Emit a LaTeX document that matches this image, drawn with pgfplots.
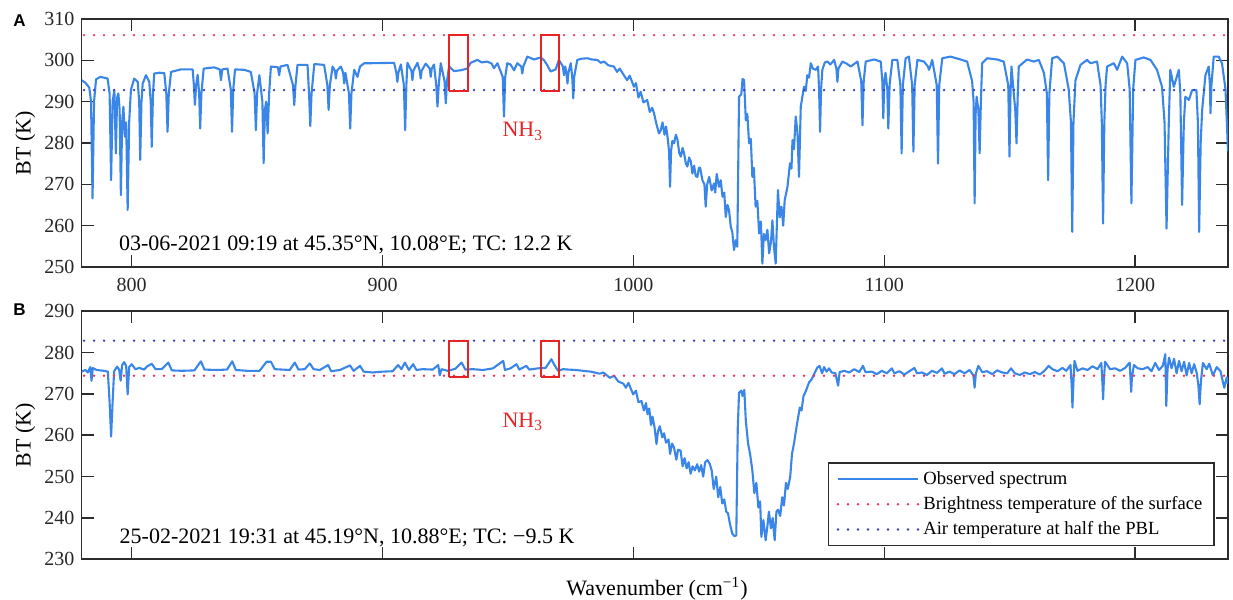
\documentclass[border=0pt]{standalone}
\usepackage{pgfplots}
\pgfplotsset{compat=1.18}
\usepackage{pgfplotstable}
\usepackage{fontspec}
\setmainfont{Liberation Serif}
\newfontfamily\panelfont{Liberation Sans}

\definecolor{specblue}{RGB}{58,134,232}
\definecolor{surfred}{RGB}{238,50,90}
\definecolor{airblue}{RGB}{55,60,190}
\definecolor{boxred}{RGB}{232,35,35}
\definecolor{axisgray}{RGB}{45,45,45}

\pgfplotstableread{
x y
780 295.2
781.5 294.6
783.1 293.4
783.8 290
784.4 266.6
785.0 290
785.8 295.4
787.5 296.0
790.4 295.6
791.2 292
791.8 271.0
792.4 290
793.1 292.8
793.7 277.5
794.2 291
794.7 292.0
795.2 288
795.7 267.4
796.2 285
796.7 288.8
797.3 281.5
797.8 285
798.4 263.8
799.0 285
799.7 292.8
801.0 295.6
802.4 294.8
803.0 290
803.4 275.9
803.9 290
804.4 294.4
805.7 296.4
807.0 294.8
807.6 290
808.0 279.1
808.5 292
809.0 296.8
811 297.0
813.0 296.9
813.8 292
814.3 282.7
814.8 292
815.7 297.2
819.6 297.8
824.3 297.8
824.8 294
825.2 289.2
825.7 294
826.3 296.5
826.9 292
827.3 283.5
827.8 292
828.7 298.0
832.9 298.3
835.1 297.8
835.6 295.2
836.1 297.8
838.2 298.0
839.5 293
840.0 282.7
840.5 293
841.2 297.8
844.9 297.7
847.5 297.2
849.0 292
849.5 283.1
850.0 292
850.9 296.4
852.1 290
852.6 275.1
853.1 288
853.6 290
854.2 282.3
854.8 292
855.5 298.5
858.3 298.3
858.8 296.4
859.3 298.5
862.1 298.9
864.3 294
864.8 289.2
865.3 294
866.1 298.9
870.1 298.9
870.7 292
871.2 284.1
871.7 292
872.8 299.1
876.7 298.9
878.0 294
878.5 288.0
879.0 294
880.1 298.5
881.0 297.5
881.4 295.6
881.8 297.5
883.4 298.5
884.3 297
884.7 294.4
885.2 297
886.6 292
887.1 283.5
887.6 292
888.7 297.7
890.0 296.0
891.0 298.5
892.7 299.3
895.3 299.3
904.6 299.4
905.5 297
905.9 294.8
906.3 297
907.3 299.0
908.5 294
909.0 283.1
909.5 294
909.9 299.4
911.5 297.5
911.9 295.2
912.3 297.5
913.9 299.4
914.8 297.5
915.2 295.6
915.6 297.5
917.2 299.2
918.8 298
919.2 296.0
919.6 298
920.5 299.0
921.4 294
921.9 288.8
922.4 294
923.2 299.3
924.7 295
925.2 289.6
925.7 295
926.5 298.5
928.5 297.4
931.2 297.6
933.8 298.0
935.1 299.4
937.8 300.1
939.5 299.5
941.8 299.7
943.5 299.2
944.4 298.1
945.8 299.3
947.9 296
948.4 286.4
948.9 296
949.7 299.3
951 299
952.4 297.6
953.7 299.3
955.3 298.5
955.7 296.8
956.1 298.5
957.7 300.9
960.4 300.2
963.0 300.7
964.4 300.0
965.5 299
967.0 297.3
969.0 297.8
970.3 300.1
971.9 298.5
972.3 296.4
972.8 298.5
973.3 297
973.7 294.4
974.1 297
975.0 299.3
975.6 296
976.0 290.8
976.4 296
977.6 300.1
979.5 300.4
981.6 300.5
983.5 300.2
985.6 300.1
987 299.4
988.3 299.7
990 298.8
992.2 298.5
993.5 297.2
994.5 298.0
996.2 296.4
997.5 295.2
998.5 296.3
1000.2 293.6
1001.0 294.5
1002.0 291.0
1002.9 292.4
1004.0 289.8
1005.5 290.4
1006.5 287.5
1007.5 288.5
1008.2 287.2
1009.2 284.5
1010.2 282.3
1010.9 283.1
1011.6 285.0
1012.4 282.0
1013.0 284.0
1013.6 281.5
1014.2 278
1014.6 269.4
1015.0 278
1015.5 280.5
1016.2 279.9
1016.9 282.0
1017.5 281.0
1018.3 277.5
1018.9 276.7
1019.6 278.8
1020.2 277.5
1020.9 275.0
1021.5 274.3
1022.2 276.5
1022.9 275.5
1023.5 272.6
1024.2 274.5
1024.8 272.0
1025.5 271.8
1026.1 274
1026.6 274.0
1027.5 271.0
1028.3 270
1028.8 264.6
1029.4 270
1030.2 271.8
1031.2 268.5
1032.1 270.2
1032.6 268.0
1033.2 272.5
1034.1 269.4
1034.8 271
1035.5 267.0
1036.2 268
1036.8 262.1
1037.5 265.0
1038.1 263.8
1038.8 259.7
1039.4 258.5
1040.1 254.1
1040.8 256.5
1041.4 254.9
1042.1 291.2
1043.0 291.8
1043.5 295.5
1044.1 295.2
1044.8 285.5
1045.4 287
1046.1 279.9
1046.8 281
1047.4 271.8
1048.0 274
1048.7 264.6
1049.4 266
1050.1 258.1
1050.8 261
1051.4 250.8
1052.0 258
1052.7 256.5
1053.4 259
1054.1 253.3
1054.8 256
1055.4 261.3
1056.0 255
1056.7 250.8
1057.6 268.6
1058.3 262
1059.0 264.6
1059.7 260
1060.3 266.2
1061.4 269.4
1062.4 275.1
1063.0 273.8
1063.4 280.7
1064.0 278.5
1064.7 286.4
1065.4 282.3
1066.0 271.8
1066.7 288.8
1068.0 293.6
1068.7 292.6
1069.3 296.4
1070.0 295.8
1070.7 299.3
1071.5 298.0
1072.7 297.7
1073.6 298.5
1074.0 293
1074.4 282.7
1074.8 293
1075.3 297.7
1076.3 299.5
1077.3 299.7
1078.5 299.0
1080.0 300.1
1080.9 298
1081.3 294.8
1081.7 298
1083.3 299.7
1085 299.2
1086.6 298.5
1089.3 299.7
1090.8 295
1091.3 284.3
1091.8 295
1092.6 299.7
1095.9 300.2
1098.6 299.7
1099.2 295
1099.6 286.0
1100.0 295
1100.5 297
1101.2 293
1101.6 283.5
1102.1 294
1103.2 300.1
1105.2 300.1
1106.4 294
1106.9 277.5
1107.4 294
1108.5 300.5
1109.8 300.9
1111.1 294
1111.6 277.9
1112.1 294
1113.2 300.1
1115.8 299.7
1117.4 298.5
1117.8 297.7
1118.3 298.5
1119.1 300.1
1120.9 294
1121.4 275.0
1121.9 294
1123.1 300.5
1126.4 300.9
1130.4 300.2
1133.0 299.7
1135.0 295
1135.6 290
1136.0 265.4
1136.4 287
1136.8 291.2
1137.5 288
1138.0 277.5
1138.5 290
1139.0 299.3
1141.0 300.5
1145.0 300.2
1147.6 299.7
1149.4 294
1149.9 276.7
1150.3 292
1150.7 298.5
1151.6 292
1152.2 288
1152.7 279.9
1153.2 292
1153.6 298.5
1156.9 300.2
1159.6 299.7
1161.6 300.1
1163.6 297
1164.8 292
1165.3 271.0
1165.8 292
1166.9 300.5
1168.9 300.9
1171.6 299.3
1173.5 293
1174.4 285
1174.9 258.5
1175.4 285
1176.2 295.2
1178.2 298.9
1180.8 300.1
1182.2 299.3
1184.8 299.7
1186.2 294
1186.7 285
1187.2 260.5
1187.7 285
1188.2 294
1188.8 298.5
1191.5 299.3
1192.8 297.7
1194.8 300.9
1196.8 299.3
1197.8 293
1198.5 265.4
1199.2 293
1200.1 300.1
1203.4 300.7
1206.1 300.1
1208.7 297.7
1210.7 293.6
1211.7 285
1212.5 259.3
1213.4 285
1214.0 297.7
1215.4 293.6
1217.4 297.7
1218.0 292
1218.7 265.0
1219.4 285
1220.0 291.2
1221.4 290.4
1222.7 292.8
1224.4 292.8
1225.0 285
1225.5 258.5
1226.1 280
1226.7 288
1228.0 296.4
1229.3 298.5
1229.8 294
1230.0 287.2
1230.4 294
1231.3 300.9
1233.3 300.9
1234.6 299.3
1236.0 293
1237.0 278
}\specA

% panel B: 25-02-2021
\pgfplotstableread{
x y
780 275.4
781.5 275.8
782.5 275.2
783.5 276.5
784.0 273.2
784.5 276.3
786 275.8
789 275.6
790.5 275.4
791.2 268
791.8 259.7
792.4 268
793.0 275.5
794.2 276.6
795.0 275.9
795.6 273.2
796.2 277.0
797 277.7
797.8 276.8
798.4 269.9
799.0 276.5
800 277.2
801.5 276.0
803 276.3
805 275.9
806 276.6
808 277.3
809.5 276.0
812 276.0
814.6 277.6
816 275.7
820 275.6
825 275.7
827.6 277.9
829 275.9
834 275.8
838 275.9
840.1 277.9
841.5 275.8
846 275.6
851 275.6
852.5 276.8
853.8 277.8
855.5 277.8
857 276.0
860 275.9
863 275.8
865 277.6
866.5 275.9
869 276.0
871 277.4
872.5 276.0
875 275.8
878.3 277.0
879.5 275.5
883 275.8
887 276.9
888.5 275.6
891 276.8
892.5 275.4
896 275.2
900 275.4
904 275.5
906.2 277.0
907.5 276.0
908.9 277.6
910.5 275.8
912.2 277.2
913.5 275.8
916 276.0
920 275.9
922.2 277.0
922.8 274.5
923.5 276.0
926 275.6
929 276.1
931.5 277.6
933 275.9
936 276.0
940 275.8
944 276.2
948.1 278.0
948.8 275.8
951 276.2
953.4 277.2
954.5 275.9
957.3 276.8
958.5 275.9
962 276.2
965 276.3
967.3 278.4
968.5 277.0
970 275.6
972 276.0
974 275.9
977 275.8
980 275.6
983 275.4
986.6 274.9
988 275.2
990.6 273.9
992.3 274.4
994 273.0
996 272.5
997 271.5
998 272.7
999.9 269.9
1001 270.8
1002 268.0
1003.2 268.3
1004.2 266.0
1005.0 267.8
1005.6 265.1
1006.3 266.5
1007.0 262.5
1007.6 264.5
1008.4 262.0
1009.2 257.9
1009.8 261.0
1010.5 262.2
1011.5 259.5
1012.2 260.5
1013.0 258.2
1014.0 259.0
1014.6 255.5
1015.4 258.0
1016.2 257.0
1017.1 254.1
1017.8 256.5
1018.8 256.3
1019.6 252.5
1020.4 254.5
1021.2 252.0
1022.0 253.5
1022.8 250.7
1023.6 252.5
1024.5 251.5
1025.4 253.0
1026.2 251.2
1027.0 252.8
1027.8 250.0
1028.6 253.5
1029.5 254.0
1030.4 253.1
1031.2 251.5
1032.0 247.0
1033.0 250.0
1033.8 245.0
1034.6 247.5
1035.4 243.5
1036.2 244.5
1037.0 241.5
1037.7 241.1
1038.5 238.5
1039.4 236.2
1040.3 235.6
1041.0 235.8
1041.6 262
1042.1 270.3
1043.0 270.8
1043.5 269.5
1044.2 271.0
1044.8 263.5
1045.7 258.0
1046.5 255.5
1047.4 251.5
1048.2 246.0
1049.0 248.5
1049.8 242.5
1050.5 244.0
1051.0 235.4
1051.8 239.5
1052.7 234.6
1053.4 238.0
1054.0 241.5
1054.8 237.5
1055.5 240.0
1056.3 234.6
1057.0 241.5
1057.6 242.0
1058.5 240.5
1059.3 245.0
1060.0 243.0
1060.8 248.5
1061.5 247.0
1062.5 250.0
1063.2 255.5
1064.0 258.0
1065.0 262.0
1066.3 266.7
1067.0 266.0
1067.8 269.5
1068.8 270.8
1070 272.8
1071 273.5
1072 274.8
1073.3 276.4
1074.2 276.8
1075.2 275.0
1076 276.5
1077.0 275.4
1078 276.2
1079 275.2
1080.5 275.0
1081.6 272.0
1082.2 275.3
1084 275.6
1086 275.2
1088 276.0
1090 275.3
1091.5 276.8
1092.5 275.3
1095 275.4
1097 274.8
1099 275.6
1101 275.0
1103 276.2
1104 275.0
1106 275.5
1108 274.7
1110 275.5
1112 276.3
1113 275.0
1115 275.2
1117 274.6
1119 275.6
1121 275.1
1123 276.2
1124 274.9
1126 275.4
1128 274.8
1130 275.7
1132 275.0
1134 275.8
1135.5 274.5
1136.0 271.5
1136.5 275.0
1137.5 276.8
1139 275.3
1141 275.5
1143 274.8
1145 275.7
1147 275.2
1149 275.0
1150.5 276.2
1152 275.0
1154 274.6
1156 275.2
1158 274.8
1160 275.3
1162 274.7
1164 275.7
1165.5 276.8
1167 276.0
1169 275.5
1171 276.3
1172.5 275.6
1174.2 277.0
1174.7 272
1175.0 266.7
1175.4 273
1175.8 278.0
1177 275.6
1179 276.2
1181 275.8
1183 276.7
1185 276.0
1186.5 277.5
1187.0 272
1187.2 268.7
1187.5 273
1188 277.8
1190 276.0
1192 276.2
1194 275.6
1196 276.3
1197.8 277.6
1198.2 273
1198.4 270.5
1198.7 274
1199.5 277.0
1201 276.2
1203 276.0
1205 276.5
1206.5 275.5
1208 277.5
1209.5 275.8
1211 276.8
1212.0 279.6
1212.4 267.1
1212.9 276
1213.5 278.8
1214.5 276.2
1215.5 278.5
1216.5 275.0
1217.5 278.0
1218.5 275.5
1219.5 277.8
1220.5 274.5
1221.5 277.5
1222.5 275.0
1223.5 277.2
1224.5 275.2
1225.2 272
1225.7 267.5
1226.2 273
1227 277.5
1228.5 276.0
1229.5 277.3
1231 274.5
1232.5 276.5
1234 275.5
1235.5 271.5
1236.5 274
1237 272.5
}\specB

\pgfplotsset{
  btpanel/.style={
    scale only axis,
    width=573.25pt, height=124pt,
    xmin=780, xmax=1237,
    xtick={800,900,1000,1100,1200},
    tick pos=both,
    tick align=inside,
    major tick length=6pt,
    axis line style={axisgray, line width=0.8pt},
    every tick/.style={axisgray, line width=0.8pt},
    tick label style={font=\fontsize{10}{12}\selectfont, text=black!85},
    /pgf/number format/assume math mode=true,
    /pgf/number format/set thousands separator={},
    ylabel={BT (K)},
    ylabel style={at={(axis description cs:-0.049,0.5)}, anchor=center,
      font=\fontsize{11}{13}\selectfont},
  },
  spec/.style={specblue, line width=1.05pt, line join=round},
  dotline/.style={line width=1.35pt, line cap=round, dash pattern=on 0pt off 5pt},
  nhbox/.style={boxred, line width=1pt, forget plot},
}

\begin{document}
\begin{tikzpicture}
\begin{axis}[btpanel,
  at={(40.75pt,166.5pt)}, anchor=south west,
  ymin=250, ymax=310, ytick={250,260,...,310},
  xticklabel style={yshift=-2pt},
]
  \addplot[spec] table[x=x, y=y] {\specA};
  \addplot[surfred, dotline] coordinates {(781,306.1) (1237,306.1)};
  \addplot[airblue, dotline] coordinates {(781,292.8) (1237,292.8)};
  \addplot[nhbox] coordinates {(926.5,292.6) (934.1,292.6) (934.1,306.1) (926.5,306.1) (926.5,292.6)};
  \addplot[nhbox] coordinates {(963.1,292.6) (970.4,292.6) (970.4,306.1) (963.1,306.1) (963.1,292.6)};
  \node[anchor=base west, text=boxred, font=\fontsize{11}{13}\selectfont]
    at (axis cs:945.0,281.5) {NH\textsubscript{3}};
  \node[anchor=base west, font=\fontsize{11}{13}\selectfont]
    at (axis cs:792.2,254.1) {03-06-2021 09:19 at 45.35°N, 10.08°E; TC: 12.2 K};
\end{axis}

\begin{axis}[btpanel,
  at={(40.75pt,20.35pt)}, anchor=south west,
  ymin=230, ymax=290, ytick={230,240,...,290},
  xticklabels={},
  xlabel={Wavenumber (cm\textsuperscript{−1})},
  xlabel style={at={(axis description cs:0.502,0)}, anchor=center, yshift=-14.5pt,
    font=\fontsize{11}{13}\selectfont},
  legend cell align=left,
  legend image code/.code={\draw[#1] (0pt,0pt) -- (40pt,0pt);},
  legend style={at={(0.9887,0.052)}, anchor=south east, draw=axisgray,
    line width=0.8pt, font=\fontsize{9.3}{11}\selectfont, row sep=0.6pt,
    inner xsep=4pt, inner ysep=2pt},
]
  \addplot[spec] table[x=x, y=y] {\specB};
  \addlegendentry{Observed spectrum}
  \addplot[surfred, dotline] coordinates {(781,274.4) (1237,274.4)};
  \addlegendentry{Brightness temperature of the surface}
  \addplot[airblue, dotline] coordinates {(781,282.9) (1237,282.9)};
  \addlegendentry{Air temperature at half the PBL}
  \addplot[nhbox] coordinates {(926.5,274.1) (934.1,274.1) (934.1,282.9) (926.5,282.9) (926.5,274.1)};
  \addplot[nhbox] coordinates {(963.1,274.1) (970.4,274.1) (970.4,282.9) (963.1,282.9) (963.1,274.1)};
  \node[anchor=base west, text=boxred, font=\fontsize{11}{13}\selectfont]
    at (axis cs:945.0,261.9) {NH\textsubscript{3}};
  \node[anchor=base west, font=\fontsize{11}{13}\selectfont]
    at (axis cs:792.4,233.9) {25-02-2021 19:31 at 45.19°N, 10.88°E; TC: −9.5 K};
\end{axis}

\node[font=\panelfont\bfseries\fontsize{8.5}{10}\selectfont] at (9.7pt,289.5pt) {A};
\node[font=\panelfont\bfseries\fontsize{8.5}{10}\selectfont] at (9.7pt,145.25pt) {B};

\pgfresetboundingbox
\path[use as bounding box] (0,0) rectangle (616.5pt,300pt);
\end{tikzpicture}
\end{document}
